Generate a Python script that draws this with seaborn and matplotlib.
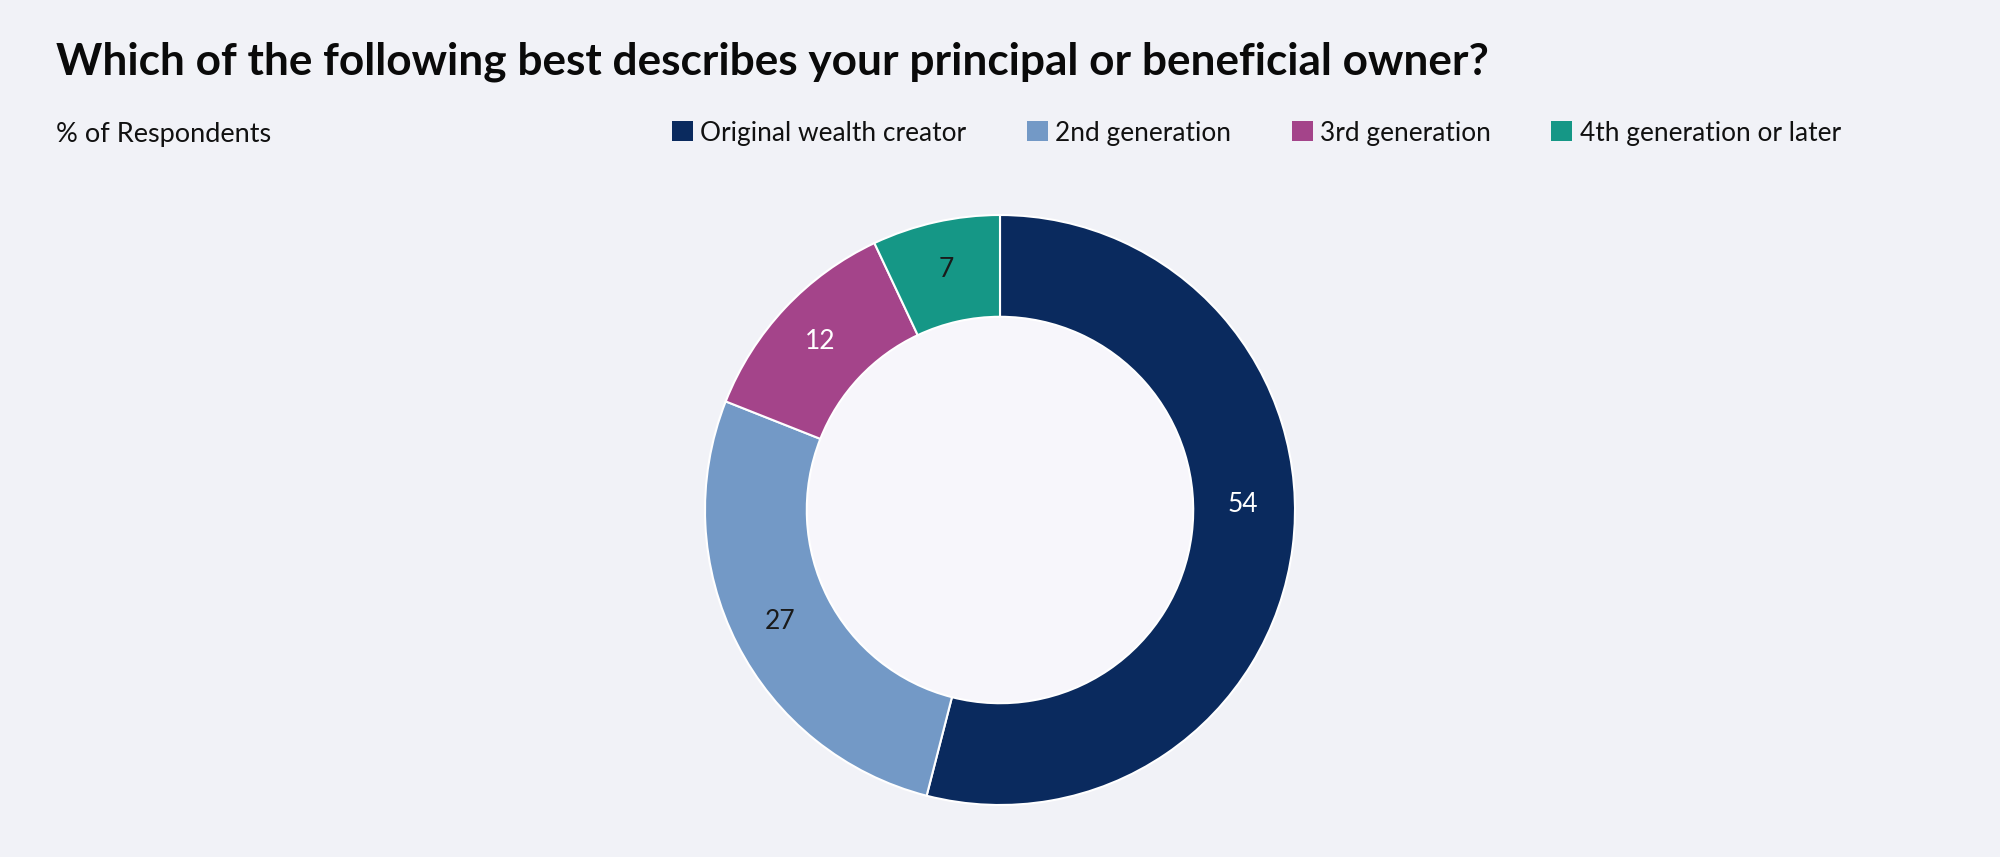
import matplotlib
matplotlib.use("Agg")
import matplotlib.pyplot as plt
import seaborn as sns
from matplotlib.patches import Patch, Circle

categories = ["Original wealth creator", "2nd generation", "3rd generation", "4th generation or later"]
values = [54, 27, 12, 7]
colors = ["#0a2a5e", "#7399c6", "#a4448a", "#159786"]
label_colors = ["white", "#1a1a1a", "white", "#1a1a1a"]
title = "Which of the following best describes your principal or beneficial owner?"
subtitle = "% of Respondents"

BG = "#f1f2f7"
sns.set_theme(style="white")
plt.rcParams["font.family"] = ["Lato", "DejaVu Sans"]

W, H = 2000, 857
fig = plt.figure(figsize=(W / 100, H / 100), dpi=100, facecolor=BG)

cx, cy, R = 1000, 510, 295
ax = fig.add_axes([(cx - R) / W, (H - cy - R) / H, 2 * R / W, 2 * R / H])
ax.set_facecolor(BG)

wedges, texts, autotexts = ax.pie(
    values, colors=colors, startangle=90, counterclock=False,
    wedgeprops=dict(width=0.345, edgecolor="white", linewidth=1.5),
    autopct=lambda p: f"{p:.0f}", pctdistance=0.835,
    textprops=dict(fontsize=19),
)
for t, c in zip(autotexts, label_colors):
    t.set_color(c)
# the largest slice's label sits on the horizontal in the reference
x0, _ = autotexts[0].get_position()
autotexts[0].set_position((x0 - 0.005, 0.02))
ax.add_patch(Circle((0, 0), 0.655, facecolor="#f7f6fb", edgecolor="none", zorder=0))
ax.set_xlim(-1, 1)
ax.set_ylim(-1, 1)
ax.set_aspect("equal")
ax.axis("off")

fig.text(56 / W, 1 - 74 / H, title, fontsize=31.8, fontweight="bold", color="#0a0a0a",
         ha="left", va="baseline")
fig.text(56 / W, 1 - 142 / H, subtitle, fontsize=19.5, color="#111111", ha="left", va="baseline")

handles = [Patch(facecolor=c, edgecolor="none") for c in colors]
fig.legend(handles, categories, loc="center left", bbox_to_anchor=(672 / W, 1 - 133 / H),
           ncol=4, frameon=False, fontsize=18.9, handlelength=0.8, handleheight=0.8,
           handletextpad=0.28, columnspacing=2.3, borderpad=0, borderaxespad=0,
           labelcolor="#111111")

fig.savefig("out.png", dpi=100, facecolor=BG)
